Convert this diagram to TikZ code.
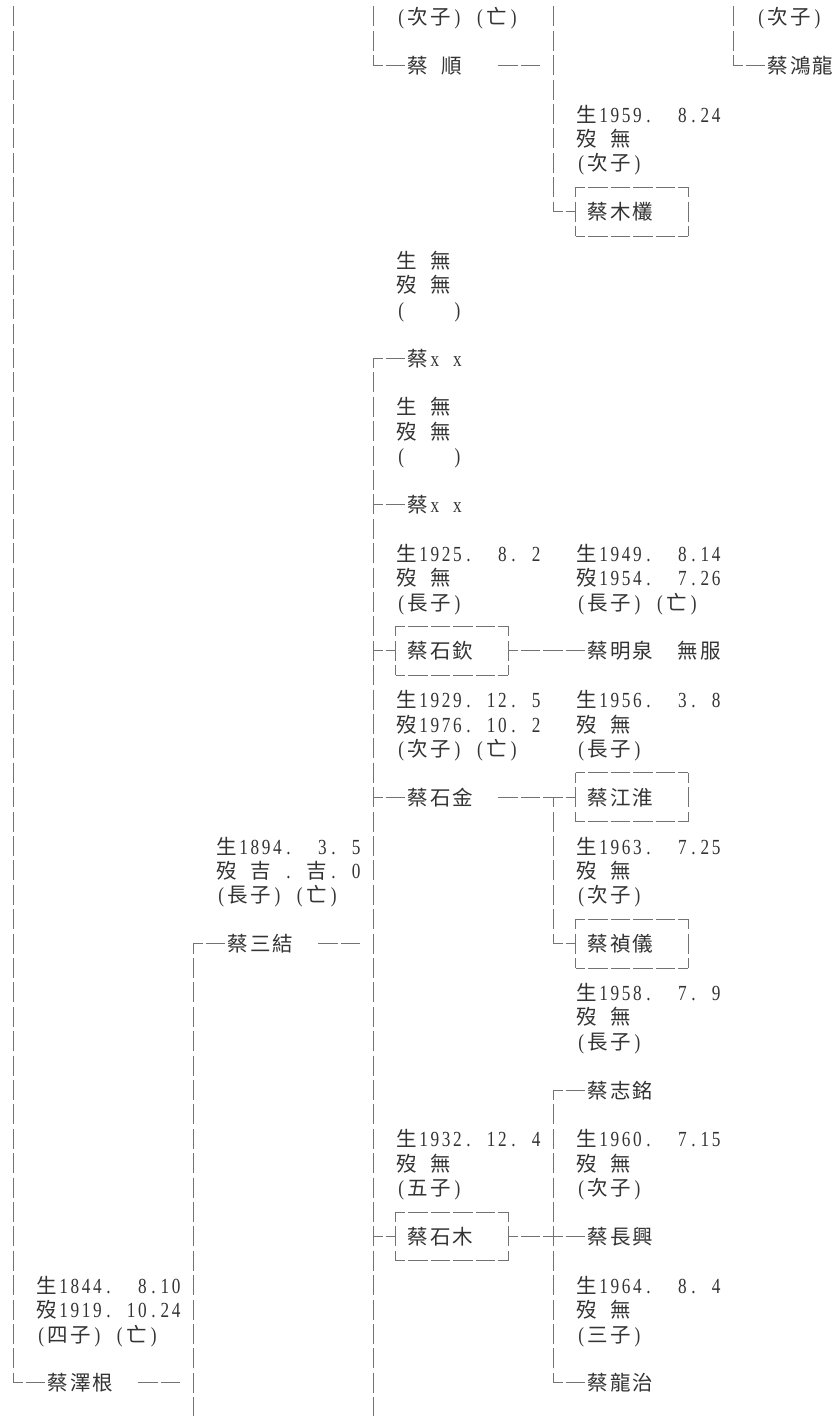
\documentclass[tikz,border=0pt]{standalone}
\usepackage{fontspec}
\setmainfont{Liberation Serif}
\newfontfamily\cjk{Noto Sans CJK TC}
\newfontfamily\lat{Liberation Serif}[FakeStretch=0.8,Scale=1.05]
\ExplSyntaxOn
\box_new:N \l_gen_cell_box
\NewDocumentCommand\cells{m}{
  \tl_map_inline:nn {#1}
  {
    \hbox_set:Nn \l_gen_cell_box {\cjk ##1}
    \dim_compare:nNnTF {\box_wd:N \l_gen_cell_box} > {15pt}
      { \hbox_to_wd:nn {22.5pt} { \hfil \cjk ##1 \hfil } }
      { \hbox_to_wd:nn {11.25pt} { \hfil \lat ##1 \hfil } }
  }
}
\ExplSyntaxOff
\definecolor{linec}{gray}{0.45}
\definecolor{textc}{gray}{0.2}
\tikzset{
  txt/.style={anchor=base west,inner sep=0pt,outer sep=0pt,text=textc,font=\fontsize{20.5pt}{24pt}\selectfont},
  hl/.style={draw=linec,line width=0.8pt,dash pattern=on 19.5pt off 3pt},
  hmid/.style={dash phase=9.75pt},
  hedge/.style={dash phase=21pt},
  vl/.style={draw=linec,line width=0.8pt,dash pattern=on 20pt off 4.4pt},
  vmid/.style={dash phase=10pt},
  vtop/.style={dash phase=22.2pt}
}
\newcommand\TX[4]{\node[txt] (#1) at (#2,#3+0.828) {\cells{#4}};}
\newcommand\genframe[3]{%
  \draw[hl,hmid] (#1,#3-0.5) -- (#2,#3-0.5);
  \draw[hl,hmid] (#1,#3+1.5) -- (#2,#3+1.5);
  \draw[vl,vmid] (#1,#3-0.5) -- (#1,#3+1.5);
  \draw[vl,vmid] (#2,#3-0.5) -- (#2,#3+1.5);}
\begin{document}
\begin{tikzpicture}
\fill[white] (0,0) rectangle (837pt,-1416pt);
\useasboundingbox (0,0) rectangle (837pt,-1416pt);
\begin{scope}[shift={(1.75pt,-4.2pt)},x=11.25pt,y=-24.4pt]
% ---------- texts ----------
\TX{i0a}{35}{0}{(次子)~(亡)}
\TX{i0b}{67}{0}{(次子)}
\TX{shun}{36}{2}{蔡~順}
\TX{honglong}{68}{2}{蔡鴻龍}
\TX{i4}{51}{4}{生1959.~~8.24}
\TX{i5}{51}{5}{歿~無}
\TX{i6}{51}{6}{(次子)}
\TX{mucong}{52}{8}{蔡木欉}
\TX{i10}{35}{10}{生~無}
\TX{i11}{35}{11}{歿~無}
\TX{i12}{35}{12}{(~~~~)}
\TX{xxa}{36}{14}{蔡x~x}
\TX{i16}{35}{16}{生~無}
\TX{i17}{35}{17}{歿~無}
\TX{i18}{35}{18}{(~~~~)}
\TX{xxb}{36}{20}{蔡x~x}
\TX{i22a}{35}{22}{生1925.~~8.~2}
\TX{i23a}{35}{23}{歿~無}
\TX{i24a}{35}{24}{(長子)}
\TX{i22b}{51}{22}{生1949.~~8.14}
\TX{i23b}{51}{23}{歿1954.~~7.26}
\TX{i24b}{51}{24}{(長子)~(亡)}
\TX{shiqin}{36}{26}{蔡石欽}
\TX{mingquan}{52}{26}{蔡明泉~~無服}
\TX{i28a}{35}{28}{生1929.~12.~5}
\TX{i29a}{35}{29}{歿1976.~10.~2}
\TX{i30a}{35}{30}{(次子)~(亡)}
\TX{i28b}{51}{28}{生1956.~~3.~8}
\TX{i29b}{51}{29}{歿~無}
\TX{i30b}{51}{30}{(長子)}
\TX{shijin}{36}{32}{蔡石金}
\TX{jianghuai}{52}{32}{蔡江淮}
\TX{i34a}{19}{34}{生1894.~~3.~5}
\TX{i35a}{19}{35}{歿~吉~.~吉.~0}
\TX{i36a}{19}{36}{(長子)~(亡)}
\TX{i34b}{51}{34}{生1963.~~7.25}
\TX{i35b}{51}{35}{歿~無}
\TX{i36b}{51}{36}{(次子)}
\TX{sanjie}{20}{38}{蔡三結}
\TX{zhenyi}{52}{38}{蔡禎儀}
\TX{i40}{51}{40}{生1958.~~7.~9}
\TX{i41}{51}{41}{歿~無}
\TX{i42}{51}{42}{(長子)}
\TX{zhiming}{52}{44}{蔡志銘}
\TX{i46a}{35}{46}{生1932.~12.~4}
\TX{i47a}{35}{47}{歿~無}
\TX{i48a}{35}{48}{(五子)}
\TX{i46b}{51}{46}{生1960.~~7.15}
\TX{i47b}{51}{47}{歿~無}
\TX{i48b}{51}{48}{(次子)}
\TX{shimu}{36}{50}{蔡石木}
\TX{changxing}{52}{50}{蔡長興}
\TX{i52a}{3}{52}{生1844.~~8.10}
\TX{i53a}{3}{53}{歿1919.~10.24}
\TX{i54a}{3}{54}{(四子)~(亡)}
\TX{i52b}{51}{52}{生1964.~~8.~4}
\TX{i53b}{51}{53}{歿~無}
\TX{i54b}{51}{54}{(三子)}
\TX{zegen}{4}{56}{蔡澤根}
\TX{longzhi}{52}{56}{蔡龍治}
% ---------- junctions ----------
\coordinate (A0) at (1,0);    \coordinate (A56) at (1,56.5);
\coordinate (B38) at (17,38.5); \coordinate (Bend) at (17,58.2);
\coordinate (C0) at (33,0);   \coordinate (C2) at (33,2.5);
\coordinate (C14) at (33,14.5); \coordinate (C20) at (33,20.5);
\coordinate (C26) at (33,26.5); \coordinate (C32) at (33,32.5);
\coordinate (C50) at (33,50.5); \coordinate (Cend) at (33,58.2);
\coordinate (D0) at (49,0);   \coordinate (D8) at (49,8.5);
\coordinate (D32) at (49,32.5); \coordinate (D38) at (49,38.5);
\coordinate (D44) at (49,44.5); \coordinate (D50) at (49,50.5);
\coordinate (D56) at (49,56.5);
\coordinate (E0) at (65,0);   \coordinate (E2) at (65,2.5);
% ---------- vertical lines ----------
\draw[vl,vtop] (A0) -- (A56);
\draw[vl,vmid] (B38) -- (Bend);
\draw[vl,vtop] (C0) -- (C2);
\draw[vl,vmid] (C14) -- (Cend);
\draw[vl,vtop] (D0) -- (D8);
\draw[vl,vmid] (D32) -- (D38);
\draw[vl,vmid] (D44) -- (D56);
\draw[vl,vtop] (E0) -- (E2);
% ---------- horizontal branches ----------
\draw[hl,hmid] (A56) -- (A56 -| zegen.west);
\draw[hl,hmid] (B38) -- (B38 -| sanjie.west);
\draw[hl,hmid] (C2) -- (C2 -| shun.west);
\draw[hl,hmid] (C14) -- (C14 -| xxa.west);
\draw[hl,hmid] (C20) -- (C20 -| xxb.west);
\draw[hl,hmid] (C32) -- (C32 -| shijin.west);
\draw[hl,hmid] (D44) -- (D44 -| zhiming.west);
\draw[hl,hmid] (D56) -- (D56 -| longzhi.west);
\draw[hl,hmid] (E2) -- (E2 -| honglong.west);
\draw[hl,hmid] (D8) -- (51,8.5);
\draw[hl,hmid] (D38) -- (51,38.5);
\draw[hl,hmid] (C26) -- (35,26.5);
\draw[hl,hmid] (45,26.5) -- (45,26.5 -| mingquan.west);
\draw[hl,hmid] (C50) -- (35,50.5);
\draw[hl,hmid] (45,50.5) -- (45,50.5 -| changxing.west);
\draw[hl,hedge] (44,32.5) -- (51,32.5);
\draw[hl,hedge] (12,56.5) -- (16,56.5);
\draw[hl,hedge] (28,38.5) -- (32,38.5);
\draw[hl,hedge] (44,2.5) -- (48,2.5);
% ---------- dashed frames ----------
\genframe{51}{61}{8}
\genframe{35}{45}{26}
\genframe{51}{61}{32}
\genframe{51}{61}{38}
\genframe{35}{45}{50}
\end{scope}
\end{tikzpicture}
\end{document}
